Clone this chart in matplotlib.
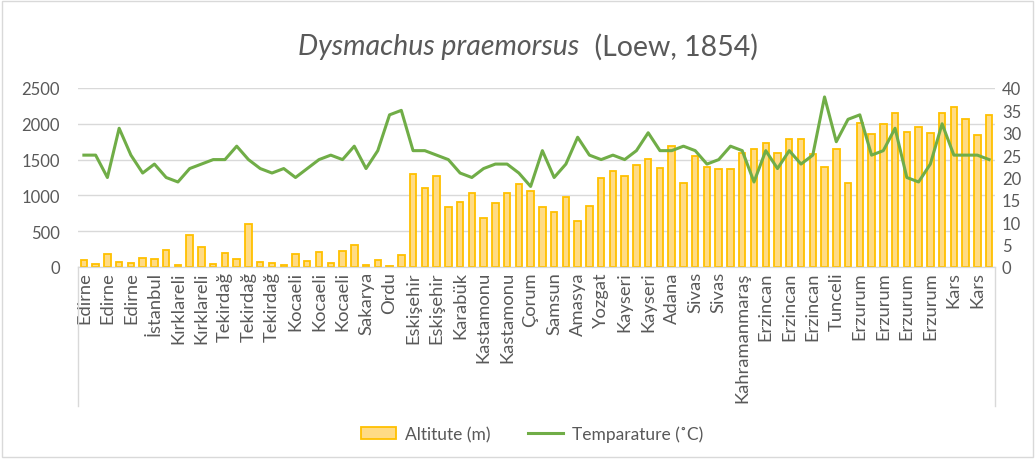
import matplotlib
matplotlib.use("Agg")
import matplotlib.pyplot as plt
import numpy as np
from matplotlib.lines import Line2D
from matplotlib.patches import Rectangle

plt.rcParams['font.family'] = ['Lato', 'DejaVu Sans']

visible_labels = ["Edirne", "Edirne", "Edirne", "İstanbul", "Kırklareli", "Kırklareli",
                  "Tekirdağ", "Tekirdağ", "Tekirdağ", "Kocaeli", "Kocaeli", "Kocaeli",
                  "Sakarya", "Ordu", "Eskişehir", "Eskişehir", "Karabük", "Kastamonu",
                  "Kastamonu", "Çorum", "Samsun", "Amasya", "Yozgat", "Kayseri", "Kayseri",
                  "Adana", "Sivas", "Sivas", "Kahramanmaraş", "Erzincan", "Erzincan",
                  "Erzincan", "Tunceli", "Erzurum", "Erzurum", "Erzurum", "Erzurum",
                  "Kars", "Kars"]
# every category; the odd ones are not labelled in the chart
categories = []
for name in visible_labels:
    categories += [name, name]

altitude = [100, 40, 180, 66, 52, 123, 118, 240, 28, 453, 283, 40, 193,
            118, 595, 66, 52, 28, 180, 85, 212, 52, 227, 312, 28, 100,
            15, 170, 1298, 1109, 1265, 840, 911, 1029, 684, 887, 1029, 1156, 1067,
            840, 770, 982, 642, 850, 1241, 1336, 1265, 1425, 1510, 1378, 1690, 1170,
            1557, 1397, 1369, 1369, 1586, 1652, 1737, 1586, 1794, 1794, 1572, 1397, 1643,
            1170, 2011, 1855, 1997, 2152, 1879, 1959, 1869, 2152, 2232, 2067, 1841, 2124]

temperature = [25, 25, 20, 31, 25, 21, 23, 20, 19, 22, 23, 24, 24,
               27, 24, 22, 21, 22, 20, 22, 24, 25, 24, 27, 22, 26,
               34, 35, 26, 26, 25, 24, 21, 20, 22, 23, 23, 21, 18,
               26, 20, 23, 29, 25, 24, 25, 24, 26, 30, 26, 26, 27,
               26, 23, 24, 27, 26, 19, 26, 22, 26, 23, 25, 38, 28,
               33, 34, 25, 26, 31, 20, 19, 23, 32, 25, 25, 25, 24]

left_ticks = [0, 500, 1000, 1500, 2000, 2500]
right_ticks = [0, 5, 10, 15, 20, 25, 30, 35, 40]

W, H = 1035, 460
fig = plt.figure(figsize=(W / 100, H / 100), dpi=100)
ax = fig.add_axes([78 / W, 1 - 268 / H, (995 - 78) / W, (268 - 89) / H])
ax2 = ax.twinx()

x = np.arange(len(categories))
ax.bar(x, altitude, width=0.55, facecolor='#FFDB85', edgecolor='#FFC000',
       linewidth=1.3, label='Altitute (m)', zorder=2)
ax2.plot(x, temperature, color='#70AD47', linewidth=2.2, label='Temparature (˚C)')

ax.set_xlim(-0.5, len(categories) - 0.5)
ax.set_ylim(0, 2500)
ax2.set_ylim(0, 40)
ax.set_yticks(left_ticks)
ax2.set_yticks(right_ticks)
ax.set_xticks(x[::2])
ax.set_xticklabels(categories[::2], rotation=90)

ax.grid(axis='y', color='#D9D9D9', linewidth=1.0, zorder=0)
ax.set_axisbelow(True)
for a in (ax, ax2):
    for s in ('top', 'left', 'right'):
        a.spines[s].set_visible(False)
    a.spines['bottom'].set_color('#D9D9D9')
ax.tick_params(axis='y', length=0, pad=13, labelsize=12, labelcolor='#595959')
ax2.tick_params(axis='y', length=0, pad=5, labelsize=12, labelcolor='#595959')
ax.tick_params(axis='x', length=0, pad=3, labelsize=13.2, labelcolor='#595959')

# category axis frame lines
for xp in (78, 995):
    fig.add_artist(Line2D([xp / W, xp / W], [1 - 268 / H, 1 - 407 / H],
                          color='#D9D9D9', linewidth=1.0))

# chart border
fig.add_artist(Rectangle((0.002, 0.004), 0.996, 0.992, transform=fig.transFigure,
                         fill=False, edgecolor='#D9D9D9', linewidth=1.0))

# title with italic species name
fig.canvas.draw()
r = fig.canvas.get_renderer()
ty = 1 - 47 / H
t1 = fig.text(0, ty, "Dysmachus praemorsus", style='italic', fontsize=20.5,
              color='#595959', va='center', ha='left')
t2 = fig.text(0, ty, "  (Loew, 1854)", fontsize=20.5, color='#595959',
              va='center', ha='left')
w1 = t1.get_window_extent(r).width
w2 = t2.get_window_extent(r).width
x0 = (528 - (w1 + w2) / 2) / W
t1.set_x(x0)
t2.set_x(x0 + w1 / W)

h1, l1 = ax.get_legend_handles_labels()
h2, l2 = ax2.get_legend_handles_labels()
fig.legend(h1 + h2, l1 + l2, loc='center', bbox_to_anchor=(532 / W, 1 - 435 / H),
           ncol=2, frameon=False, fontsize=12.5, labelcolor='#595959',
           handlelength=2.0, handletextpad=0.5, columnspacing=2.2)

fig.savefig('out.png', dpi=100)
